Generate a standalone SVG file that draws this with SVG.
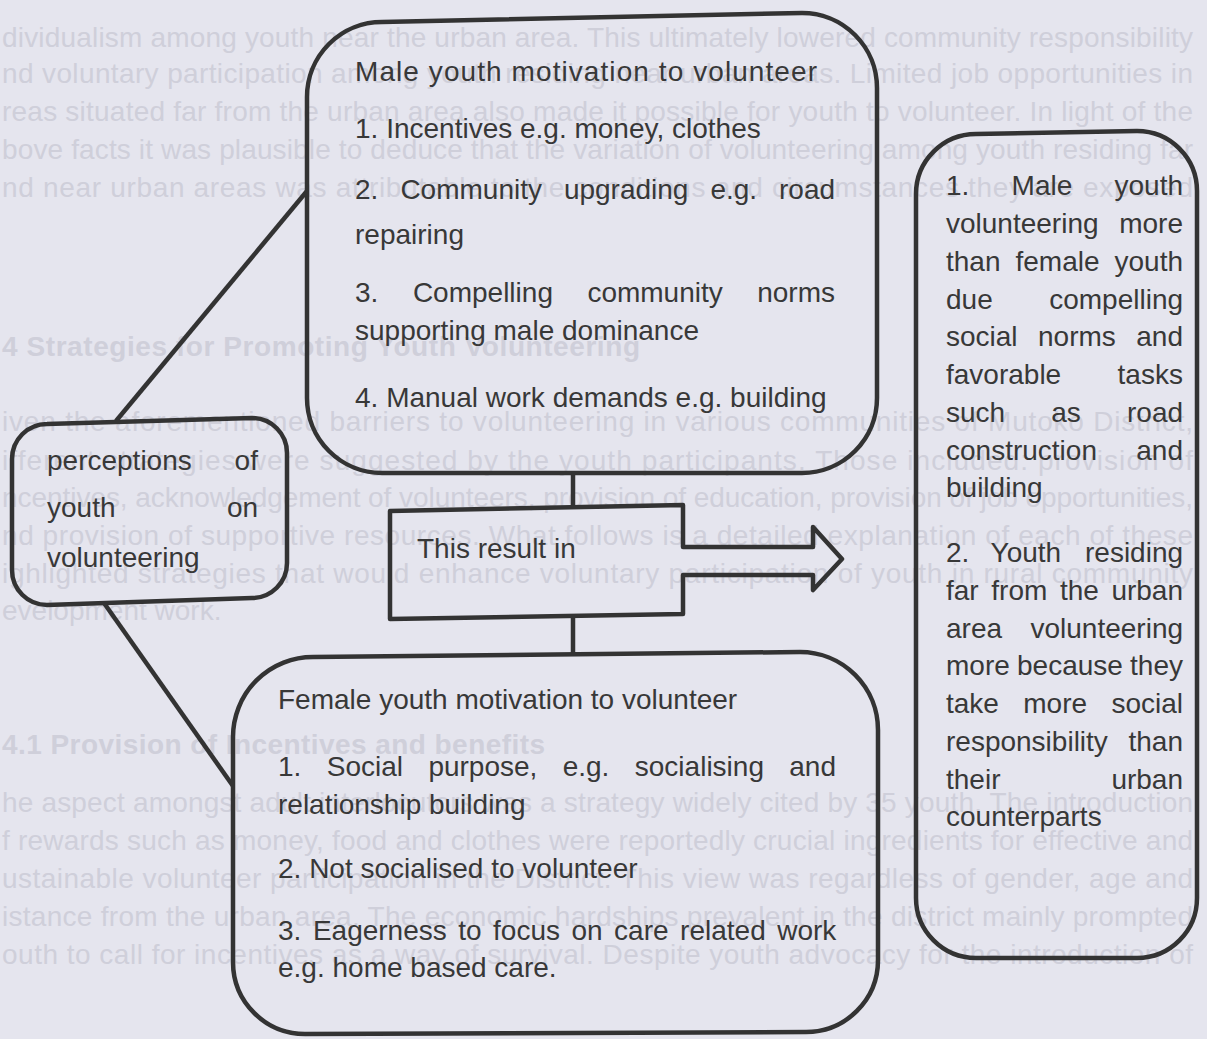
<svg xmlns="http://www.w3.org/2000/svg" width="1207" height="1039" viewBox="0 0 1207 1039">
<style>
.bg{fill:#e5e5ee}
.faint{font-family:"Liberation Sans",Arial,sans-serif;font-size:28px;fill:#cfcfda}
.fh{font-weight:bold}
.t{font-family:"Liberation Sans",Arial,sans-serif;font-size:28px;fill:#383838}
.box{fill:none;stroke:#333333;stroke-width:4.5;stroke-linejoin:round}
.conn{fill:none;stroke:#333333;stroke-width:4.5;stroke-linecap:butt}
</style>
<rect class="bg" x="0" y="0" width="1207" height="1039"/>
<g id="background-text">
<text class="faint" x="2" y="47" textLength="1191" lengthAdjust="spacing">dividualism among youth near the urban area. This ultimately lowered community responsibility</text>
<text class="faint" x="2" y="83" textLength="1191" lengthAdjust="spacing">nd voluntary participation among youth residing near urban areas. Limited job opportunities in</text>
<text class="faint" x="2" y="121" textLength="1191" lengthAdjust="spacing">reas situated far from the urban area also made it possible for youth to volunteer. In light of the</text>
<text class="faint" x="2" y="159" textLength="1191" lengthAdjust="spacing">bove facts it was plausible to deduce that the variation of volunteering among youth residing far</text>
<text class="faint" x="2" y="197" textLength="1191" lengthAdjust="spacing">nd near urban areas was attributable to the conditions and circumstances they are exposed</text>
<text class="faint fh" x="2" y="356" textLength="638" lengthAdjust="spacing">4 Strategies for Promoting Youth Volunteering</text>
<text class="faint" x="2" y="431" textLength="1191" lengthAdjust="spacing">iven the aforementioned barriers to volunteering in various communities of Mutoko District,</text>
<text class="faint" x="2" y="470" textLength="1191" lengthAdjust="spacing">ifferent strategies were suggested by the youth participants. Those included: provision of</text>
<text class="faint" x="2" y="507" textLength="1191" lengthAdjust="spacing">ncentives, acknowledgement of volunteers, provision of education, provision of job opportunities,</text>
<text class="faint" x="2" y="545" textLength="1191" lengthAdjust="spacing">nd provision of supportive resources. What follows is a detailed explanation of each of these</text>
<text class="faint" x="2" y="583" textLength="1191" lengthAdjust="spacing">ighlighted strategies that would enhance voluntary participation of youth in rural community</text>
<text class="faint" x="2" y="620">evelopment work.</text>
<text class="faint fh" x="2" y="754" textLength="543" lengthAdjust="spacing">4.1 Provision of Incentives and benefits</text>
<text class="faint" x="2" y="812" textLength="1191" lengthAdjust="spacing">he aspect amongst adult interlocutors was a strategy widely cited by 35 youth. The introduction</text>
<text class="faint" x="2" y="850" textLength="1191" lengthAdjust="spacing">f rewards such as money, food and clothes were reportedly crucial ingredients for effective and</text>
<text class="faint" x="2" y="888" textLength="1191" lengthAdjust="spacing">ustainable volunteer participation in the District. This view was regardless of gender, age and</text>
<text class="faint" x="2" y="926" textLength="1191" lengthAdjust="spacing">istance from the urban area. The economic hardships prevalent in the district mainly prompted</text>
<text class="faint" x="2" y="964" textLength="1191" lengthAdjust="spacing">outh to call for incentives as a way of survival. Despite youth advocacy for the introduction of</text>
</g>
<g id="connectors">
<line class="conn" x1="307" y1="191" x2="116" y2="421"/>
<line class="conn" x1="104" y1="603" x2="233" y2="786"/>
<line class="conn" x1="573" y1="473" x2="573" y2="507"/>
<line class="conn" x1="573" y1="616" x2="573" y2="654"/>
</g>
<g id="node-male">
<path class="box" d="M307,398 V97 A75,75 0 0 1 382,22 L802,13 A75,75 0 0 1 877,88 V398 A75,75 0 0 1 802,473 H382 A75,75 0 0 1 307,398 Z"/>
<text class="t" x="355" y="81" textLength="462" lengthAdjust="spacing">Male youth motivation to volunteer</text>
<text class="t" x="355" y="138">1. Incentives e.g. money, clothes</text>
<text class="t" y="199"><tspan x="355">2.</tspan><tspan x="400.4">Community</tspan><tspan x="563.9">upgrading</tspan><tspan x="710.4">e.g.</tspan><tspan x="779">road</tspan></text>
<text class="t" x="355" y="244">repairing</text>
<text class="t" y="302"><tspan x="355">3.</tspan><tspan x="412.9">Compelling</tspan><tspan x="587.4">community</tspan><tspan x="757.2">norms</tspan></text>
<text class="t" x="355" y="340">supporting male dominance</text>
<text class="t" x="355" y="407">4. Manual work demands e.g. building</text>
</g>
<g id="node-perceptions">
<path class="box" d="M12,570 V459 A35,35 0 0 1 47,424 L252,418 A35,35 0 0 1 287,453 V563 A35,35 0 0 1 252,598 L47,605 A35,35 0 0 1 12,570 Z"/>
<text class="t" y="470"><tspan x="47">perceptions</tspan><tspan x="234.6">of</tspan></text>
<text class="t" y="517"><tspan x="47">youth</tspan><tspan x="226.9">on</tspan></text>
<text class="t" x="47" y="567">volunteering</text>
</g>
<g id="node-result">
<path class="box" d="M390,511 L683,505 V547 H813 V527 L842,559 L813,590 V575 H683 V614 L390,619 Z"/>
<text class="t" x="417" y="558">This result in</text>
</g>
<g id="node-female">
<path class="box" d="M233,960 V737 A80,80 0 0 1 313,657 L800,652 A78,78 0 0 1 878,730 V960 A72,72 0 0 1 806,1032 L305,1034 A72,72 0 0 1 233,962 Z"/>
<text class="t" x="278" y="709">Female youth motivation to volunteer</text>
<text class="t" y="776"><tspan x="278">1.</tspan><tspan x="326.8">Social</tspan><tspan x="428.4">purpose,</tspan><tspan x="562.7">e.g.</tspan><tspan x="634.8">socialising</tspan><tspan x="789.3">and</tspan></text>
<text class="t" x="278" y="814">relationship building</text>
<text class="t" x="278" y="878">2. Not socialised to volunteer</text>
<text class="t" y="940"><tspan x="278">3.</tspan><tspan x="312.9">Eagerness</tspan><tspan x="458.2">to</tspan><tspan x="493.1">focus</tspan><tspan x="571.5">on</tspan><tspan x="614.1">care</tspan><tspan x="680.1">related</tspan><tspan x="777.2">work</tspan></text>
<text class="t" x="278" y="977">e.g. home based care.</text>
</g>
<g id="node-outcomes">
<path class="box" d="M916,898 V194 A60,60 0 0 1 976,134 L1137,131 A60,60 0 0 1 1197,191 V898 A60,60 0 0 1 1137,958 H976 A60,60 0 0 1 916,898 Z"/>
<text class="t" y="195"><tspan x="946">1.</tspan><tspan x="1011.6">Male</tspan><tspan x="1114.5">youth</tspan></text>
<text class="t" y="233"><tspan x="946">volunteering</tspan><tspan x="1119.2">more</tspan></text>
<text class="t" y="271"><tspan x="946">than</tspan><tspan x="1015.5">female</tspan><tspan x="1114.5">youth</tspan></text>
<text class="t" y="309"><tspan x="946">due</tspan><tspan x="1049.2">compelling</tspan></text>
<text class="t" y="346"><tspan x="946">social</tspan><tspan x="1038">norms</tspan><tspan x="1136.3">and</tspan></text>
<text class="t" y="384"><tspan x="946">favorable</tspan><tspan x="1117.6">tasks</tspan></text>
<text class="t" y="422"><tspan x="946">such</tspan><tspan x="1051.3">as</tspan><tspan x="1127">road</tspan></text>
<text class="t" y="460"><tspan x="946">construction</tspan><tspan x="1136.3">and</tspan></text>
<text class="t" x="946" y="497">building</text>
<text class="t" y="562"><tspan x="946">2.</tspan><tspan x="990.6">Youth</tspan><tspan x="1085">residing</tspan></text>
<text class="t" y="600"><tspan x="946">far</tspan><tspan x="991.3">from</tspan><tspan x="1059.9">the</tspan><tspan x="1111.4">urban</tspan></text>
<text class="t" y="638"><tspan x="946">area</tspan><tspan x="1030.5">volunteering</tspan></text>
<text class="t" y="675"><tspan x="946">more</tspan><tspan x="1017">because</tspan><tspan x="1130.1">they</tspan></text>
<text class="t" y="713"><tspan x="946">take</tspan><tspan x="1023.3">more</tspan><tspan x="1111.4">social</tspan></text>
<text class="t" y="751"><tspan x="946">responsibility</tspan><tspan x="1128.5">than</tspan></text>
<text class="t" y="789"><tspan x="946">their</tspan><tspan x="1111.4">urban</tspan></text>
<text class="t" x="946" y="826">counterparts</text>
</g>
</svg>
